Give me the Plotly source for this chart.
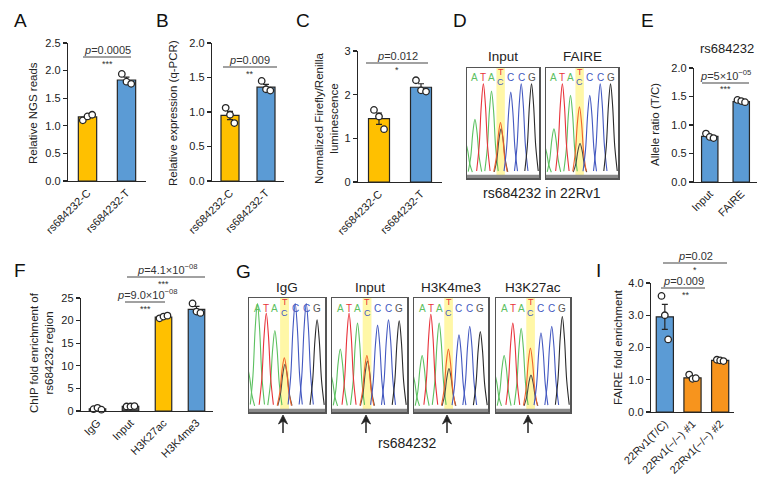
import plotly.graph_objects as go

W, H = 769, 490
FONT = "Liberation Sans, Arial, sans-serif"
GOLD = "#FFC000"
BLUE = "#5B9BD5"
ORANGE = "#F7941D"
EDGE = "#262626"
TXT = "#222222"

# ---------------- data ----------------
a_cats = ["rs684232-C", "rs684232-T"]
a_means = [1.16, 1.83]
a_sem = [0.03, 0.05]
a_reps = [[1.10, 1.17, 1.20], [1.94, 1.80, 1.76]]

b_cats = ["rs684232-C", "rs684232-T"]
b_means = [0.95, 1.36]
b_sem = [0.06, 0.04]
b_reps = [[1.06, 0.96, 0.84], [1.45, 1.33, 1.31]]

c_cats = ["rs684232-C", "rs684232-T"]
c_means = [1.45, 2.17]
c_sem = [0.13, 0.08]
c_reps = [[1.65, 1.50, 1.21], [2.33, 2.10, 2.07]]

e_cats = ["Input", "FAIRE"]
e_means = [0.80, 1.41]
e_sem = [0.02, 0.01]
e_reps = [[0.85, 0.79, 0.77], [1.44, 1.42, 1.40]]

f_cats = ["IgG", "Input", "H3K27ac", "H3K4me3"]
f_means = [0.47, 1.03, 20.8, 22.5]
f_sem = [0.12, 0.05, 0.2, 0.65]
f_reps = [[0.4, 0.7, 0.3], [1.0, 1.0, 1.1], [20.5, 20.9, 21.1], [23.8, 22.0, 21.7]]

i_cats = ["22Rv1(T/C)", "22Rv1(\u2212/\u2212) #1", "22Rv1(\u2212/\u2212) #2"]
i_means = [2.95, 1.06, 1.60]
i_sem = [0.39, 0.04, 0.01]
i_reps = [[3.60, 3.00, 2.25], [1.16, 1.03, 1.05], [1.62, 1.60, 1.58]]

# chromatogram peak heights: [lead, A, T, A, T(het), C(het), C, C, G]
bases = ["A", "T", "A", "", "C", "C", "G"]
d_input = [0.28, 0.51, 0.85, 0.78, 0.48, 0.42, 0.77, 0.85, 0.85]
d_faire = [0.25, 0.42, 0.85, 0.74, 0.63, 0.28, 0.74, 0.85, 0.85]
g_igg = [0.35, 0.95, 0.86, 0.70, 0.45, 0.39, 0.95, 0.95, 0.80]
g_input = [0.30, 0.53, 0.86, 0.77, 0.47, 0.42, 0.75, 0.80, 0.79]
g_k4 = [0.30, 0.47, 0.85, 0.77, 0.53, 0.35, 0.66, 0.74, 0.69]
g_k27 = [0.30, 0.47, 0.77, 0.72, 0.54, 0.29, 0.68, 0.74, 0.83]

# ---------------- helpers ----------------
def fx(px):
    return px / W

def fy(py):
    return 1 - py / H

def ax_ids(n):
    s = "" if n == 1 else str(n)
    return "x" + s, "y" + s, "xaxis" + s, "yaxis" + s

fig = go.Figure()
layout = dict(template="none", width=W, height=H, autosize=False,
              margin=dict(l=0, r=0, t=0, b=0, pad=0),
              paper_bgcolor="white", plot_bgcolor="rgba(0,0,0,0)",
              showlegend=False, font=dict(family=FONT, size=11, color=TXT),
              annotations=[], shapes=[])
ANN = layout["annotations"]
SHP = layout["shapes"]

def text(x, y, s, size=11, color=TXT, xanchor="center", yanchor="middle", angle=0):
    ANN.append(dict(x=fx(x), y=fy(y), xref="paper", yref="paper", text=s, showarrow=False,
                    font=dict(size=size, color=color, family=FONT), xanchor=xanchor,
                    yanchor=yanchor, textangle=angle))

def hline(x0, x1, y, color="#444", width=1.1):
    SHP.append(dict(type="line", xref="paper", yref="paper", x0=fx(x0), x1=fx(x1),
                    y0=fy(y), y1=fy(y), line=dict(color=color, width=width)))

JIT = [-0.12, 0.0, 0.12]

def bar_panel(n, cats, means, sems, reps, colors, xpx, ypx, ymax, dtick, fmt, bw):
    xr, yr, xk, yk = ax_ids(n)
    idx = list(range(len(cats)))
    fig.add_trace(go.Bar(x=idx, y=means, width=bw,
                         marker=dict(color=colors, line=dict(color=EDGE, width=1.2)),
                         error_y=dict(type="data", array=sems, visible=True, color=EDGE,
                                      thickness=1.2, width=3),
                         xaxis=xr, yaxis=yr, hoverinfo="skip"))
    dx, dy = [], []
    for i, r in zip(idx, reps):
        for k, v in enumerate(r):
            dx.append(i + JIT[k])
            dy.append(v)
    fig.add_trace(go.Scatter(x=dx, y=dy, mode="markers",
                             marker=dict(symbol="circle", size=6.5, color="white",
                                         line=dict(color=EDGE, width=1.3)),
                             xaxis=xr, yaxis=yr, hoverinfo="skip", cliponaxis=False))
    layout[xk] = dict(domain=[fx(xpx[0]), fx(xpx[1])], anchor=yr, automargin=False,
                      range=[-0.5, len(cats) - 0.5], tickmode="array", tickvals=idx,
                      ticktext=cats, tickangle=-45, showline=True, linecolor=EDGE,
                      linewidth=1.2, ticks="", showgrid=False, zeroline=False,
                      tickfont=dict(size=11, color=TXT))
    layout[yk] = dict(domain=[fy(ypx[1]), fy(ypx[0])], anchor=xr, automargin=False,
                      range=[0, ymax], dtick=dtick, tickformat=fmt, ticks="outside",
                      ticklen=4, tickwidth=1.1, tickcolor=EDGE, showline=True,
                      linecolor=EDGE, linewidth=1.2, showgrid=False, zeroline=False,
                      tickfont=dict(size=11, color=TXT))

GREEN, RED, CBLUE, BLACK, HETT, HETC = "#5CC060", "#E8323A", "#4358C0", "#2A2A2A", "#F0622A", "#4A4A4A"
PEAK_POS = [-0.15, 0.85, 1.75, 2.62, 3.58, 3.64, 4.68, 5.8, 6.9]
PEAK_COL = [GREEN, GREEN, RED, GREEN, HETT, HETC, CBLUE, CBLUE, BLACK]
DRAW_ORDER = [0, 1, 3, 2, 5, 4, 6, 7, 8]
SHAPE_DX = [-0.72, -0.45, -0.22, 0.0, 0.22, 0.45, 0.72]
SHAPE_F = [0.02, 0.3, 0.76, 1.0, 0.76, 0.3, 0.02]
LETTER_POS = [0.85, 1.75, 2.62, 3.6, 4.68, 5.8, 6.9]
LETTER_COL = [GREEN, RED, GREEN, None, CBLUE, CBLUE, "#555555"]

def chrom_panel(n, heights, xpx, ypx, title, title_y):
    xr, yr, xk, yk = ax_ids(n)
    for j in DRAW_ORDER:
        pos, h, col = PEAK_POS[j], heights[j], PEAK_COL[j]
        xs = [pos + o for o in SHAPE_DX]
        ys = [h * f for f in SHAPE_F]
        fig.add_trace(go.Scatter(x=xs, y=ys, mode="lines",
                                 line=dict(color=col, width=1.1, shape="spline"),
                                 xaxis=xr, yaxis=yr, hoverinfo="skip"))
    layout[xk] = dict(domain=[fx(xpx[0]), fx(xpx[1])], anchor=yr, range=[0, 7.7],
                      automargin=False, showline=True, mirror=True, linecolor="#555555",
                      linewidth=1.5, showticklabels=False, ticks="", showgrid=False,
                      zeroline=False)
    layout[yk] = dict(domain=[fy(ypx[1]), fy(ypx[0])], anchor=xr, range=[-0.05, 1.0],
                      automargin=False, showline=True, mirror=True, linecolor="#555555",
                      linewidth=1.5, showticklabels=False, ticks="", showgrid=False,
                      zeroline=False)
    SHP.append(dict(type="rect", xref=xr, yref=yr, x0=3.15, x1=4.05, y0=-0.05, y1=1.0,
                    fillcolor="#FFF48A", opacity=0.75, line=dict(width=0), layer="below"))
    SHP.append(dict(type="rect", xref=xr, yref=yr, x0=0, x1=7.7, y0=-0.05, y1=-0.02,
                    fillcolor="#8A8A8A", line=dict(width=0), layer="above"))
    for p, b, c in zip(LETTER_POS, bases, LETTER_COL):
        if b:
            ANN.append(dict(x=p, y=0.905, xref=xr, yref=yr, text=b, showarrow=False,
                            font=dict(size=10, color=c, family=FONT)))
    ANN.append(dict(x=3.6, y=0.96, xref=xr, yref=yr, text="T", showarrow=False,
                    font=dict(size=9, color=RED, family=FONT)))
    ANN.append(dict(x=3.6, y=0.865, xref=xr, yref=yr, text="C", showarrow=False,
                    font=dict(size=9, color=CBLUE, family=FONT)))
    text((xpx[0] + xpx[1]) / 2, title_y, title, size=13.5)

# ---------------- panels ----------------
bar_panel(1, a_cats, a_means, a_sem, a_reps, [GOLD, BLUE], (68, 146), (43, 181), 2.5, 0.5, ".1f", 0.47)
bar_panel(2, b_cats, b_means, b_sem, b_reps, [GOLD, BLUE], (212, 284), (43, 181), 2.0, 0.5, ".1f", 0.5)
bar_panel(3, c_cats, c_means, c_sem, c_reps, [GOLD, BLUE], (358, 442), (51, 182), 3, 1, "d", 0.5)
bar_panel(4, e_cats, e_means, e_sem, e_reps, [BLUE, BLUE], (694, 757), (68, 182), 2.0, 0.5, ".1f", 0.52)
bar_panel(5, f_cats, f_means, f_sem, f_reps, ["#555555", "#555555", GOLD, BLUE], (81, 213), (298, 411), 25, 5, "d", 0.5)
bar_panel(6, i_cats, i_means, i_sem, i_reps, [BLUE, ORANGE, ORANGE], (651, 734), (283, 412), 4.0, 1.0, ".1f", 0.62)

chrom_panel(7, d_input, (467, 539), (68, 178), "Input", 57)
chrom_panel(8, d_faire, (546, 618), (68, 178), "FAIRE", 57)
chrom_panel(9, g_igg, (249, 325), (298, 412), "IgG", 287)
chrom_panel(10, g_input, (332, 407), (298, 412), "Input", 287)
chrom_panel(11, g_k4, (414, 488), (298, 412), "H3K4me3", 287)
chrom_panel(12, g_k27, (496, 570), (298, 412), "H3K27ac", 287)

# captions
text(542, 193, "rs684232 in 22Rv1", size=14)
text(407, 443, "rs684232", size=14)
text(727, 49, "rs684232", size=13)

# arrows in G (drawn as shapes: shaft + head)
for ax_x in [283, 366, 447, 528]:
    SHP.append(dict(type="line", xref="paper", yref="paper", x0=fx(ax_x), x1=fx(ax_x),
                    y0=fy(433), y1=fy(420), line=dict(color="#222", width=1.5)))
    SHP.append(dict(type="path", xref="paper", yref="paper",
                    path=f"M {fx(ax_x)} {fy(415)} L {fx(ax_x - 4.5)} {fy(424)} "
                         f"L {fx(ax_x)} {fy(421)} L {fx(ax_x + 4.5)} {fy(424)} Z",
                    fillcolor="#222", line=dict(color="#222", width=0.8)))

# panel letters
for lx, ly, L in [(20, 21, "A"), (162, 21, "B"), (303, 20, "C"), (460, 20, "D"),
                  (647, 20, "E"), (20, 270, "F"), (243, 271, "G"), (598, 270, "I")]:
    text(lx, ly, L, size=19, color="#111")

# y-axis titles
text(33, 113, "Relative NGS reads", size=11.5, angle=-90)
text(173, 113, "Relative expression (q-PCR)", size=11.5, angle=-90)
text(326, 118, "Normalized Firefly/Renilla<br>luminescence", size=11.5, angle=-90)
text(655, 125, "Allele ratio (T/C)", size=11.5, angle=-90)
text(41, 353, "ChIP fold enrichment of<br>rs684232 region", size=11.5, angle=-90)
text(618, 347, "FAIRE fold enrichment", size=11.5, angle=-90)

# significance brackets
def sig(x0, x1, y, ptxt, stars, tx=None, sx=None):
    hline(x0, x1, y)
    tx = (x0 + x1) / 2 if tx is None else tx
    sx = (x0 + x1) / 2 if sx is None else sx
    text(tx, y + 1, ptxt, size=11, color="#333", yanchor="bottom")
    text(sx, y + 6.5, stars, size=9, color="#333")

sig(83, 131, 57, "<i>p</i>=0.0005", "***")
sig(223, 277, 67, "<i>p</i>=0.009", "**")
sig(366, 428, 63, "<i>p</i>=0.012", "*")
sig(702, 749, 83, "<i>p</i>=5\u00d710<sup>\u221205</sup>", "***")
sig(127, 205, 277, "<i>p</i>=4.1\u00d710<sup>\u221208</sup>", "***", tx=167, sx=163)
sig(125, 165, 302, "<i>p</i>=9.0\u00d710<sup>\u221208</sup>", "***", tx=147, sx=145)
sig(663, 727, 263, "<i>p</i>=0.02", "*", tx=695, sx=695)
sig(661, 705, 288, "<i>p</i>=0.009", "**", tx=683, sx=686)

fig.update_layout(**layout)
fig.write_html("out.html", config={"displayModeBar": False, "staticPlot": True},
               post_script="document.body.style.margin='0';document.body.style.padding='0';")
